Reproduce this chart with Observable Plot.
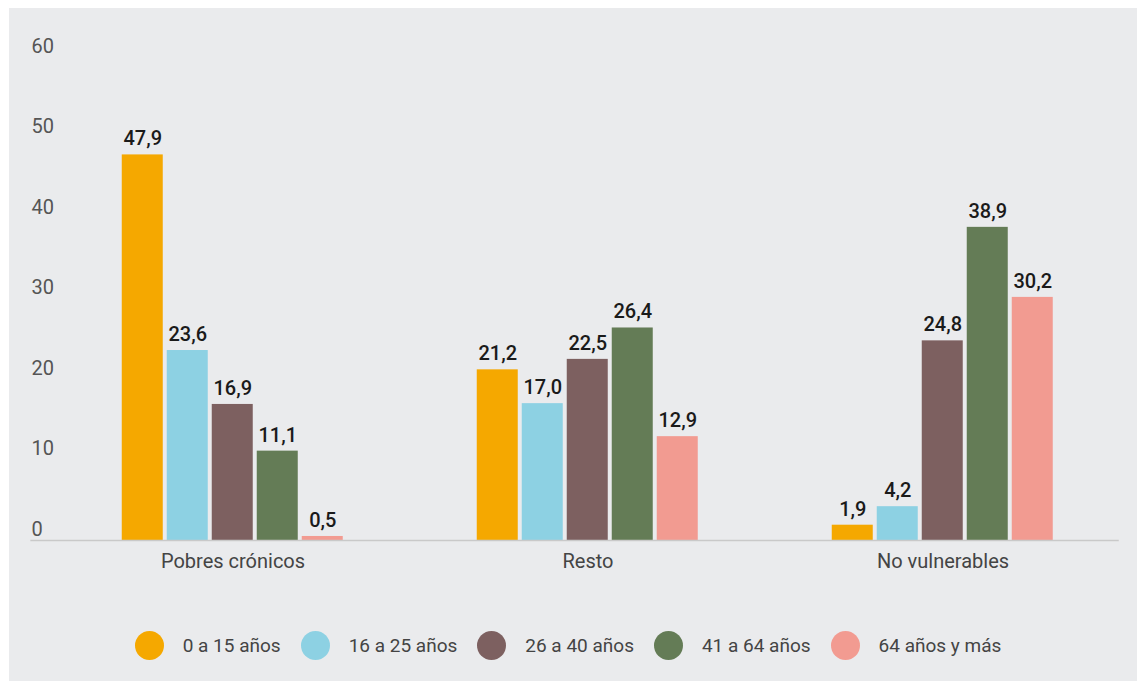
<!DOCTYPE html>
<html><head><meta charset="utf-8">
<script src="https://cdn.jsdelivr.net/npm/d3@7"></script>
<script src="https://cdn.jsdelivr.net/npm/@observablehq/plot@0.6"></script>
<style>
body{margin:0;background:#fff;font-family:Roboto,"Noto Sans",sans-serif;}
#panel{position:absolute;left:9px;top:8px;width:1128px;height:673px;background:#eaebed;}
#chart{position:absolute;left:0;top:0;}
#legend{position:absolute;top:622px;left:0;width:1118px;height:30px;display:flex;justify-content:center;align-items:center;font-size:19px;color:#444;}
.item{display:flex;align-items:center;margin:0 10px;}
.dot{width:29px;height:29px;border-radius:50%;margin-right:19px;}
</style></head>
<body>
<div id="panel"><div id="chart"></div><div id="legend"></div></div>
<script>
const categories = ["Pobres crónicos", "Resto", "No vulnerables"];
const ages = ["0 a 15 años", "16 a 25 años", "26 a 40 años", "41 a 64 años", "64 años y más"];
const pobresCronicos = [47.9, 23.6, 16.9, 11.1, 0.5];
const resto = [21.2, 17.0, 22.5, 26.4, 12.9];
const noVulnerables = [1.9, 4.2, 24.8, 38.9, 30.2];
const colors = ["#f5a800", "#8dd1e3", "#7d6060", "#647c56", "#f29b91"];
const yTicks = [0, 10, 20, 30, 40, 50, 60];

const series = [pobresCronicos, resto, noVulnerables];
const data = [];
categories.forEach((c, i) => ages.forEach((a, j) => data.push({category: c, age: a, value: series[i][j]})));

const fmt = v => v.toFixed(1).replace(".", ",");

const chart = Plot.plot({
  width: 1128,
  height: 572,
  marginLeft: 45.25,
  marginRight: 16.25,
  marginTop: 49,
  marginBottom: 40,
  style: {background: "transparent", fontFamily: "Roboto, sans-serif", fontSize: "20px", color: "#444"},
  fx: {domain: categories, paddingInner: 0.378, paddingOuter: 0.189, label: null, tickSize: 0, tickPadding: 13},
  x: {domain: ages, paddingInner: 0.089, paddingOuter: 0, axis: null},
  y: {domain: [0, 60], axis: null},
  color: {domain: ages, range: colors},
  marks: [
    Plot.axisY(yTicks, {anchor: "left", tickSize: 0, tickPadding: 0, textAnchor: "start", dx: -91, dy: -11, fill: "#555", label: null, fontSize: 20}),
    Plot.barY(data, {fx: "category", x: "age", y: "value", fill: "age"}),
    Plot.frame({anchor: "bottom", facet: "super", stroke: "#c9c9c9", strokeWidth: 1.5, insetLeft: -91.4, insetRight: -64.5}),
    Plot.text(data, {fx: "category", x: "age", y: "value", text: d => fmt(d.value), dy: -16, fontSize: 20, fontWeight: 500, fill: "#1a1a1a"})
  ]
});
document.getElementById("chart").appendChild(chart);

const legend = document.getElementById("legend");
ages.forEach((a, i) => {
  const item = document.createElement("div");
  item.className = "item";
  item.innerHTML = `<span class="dot" style="background:${colors[i]}"></span><span>${a}</span>`;
  legend.appendChild(item);
});
</script>
</body></html>
